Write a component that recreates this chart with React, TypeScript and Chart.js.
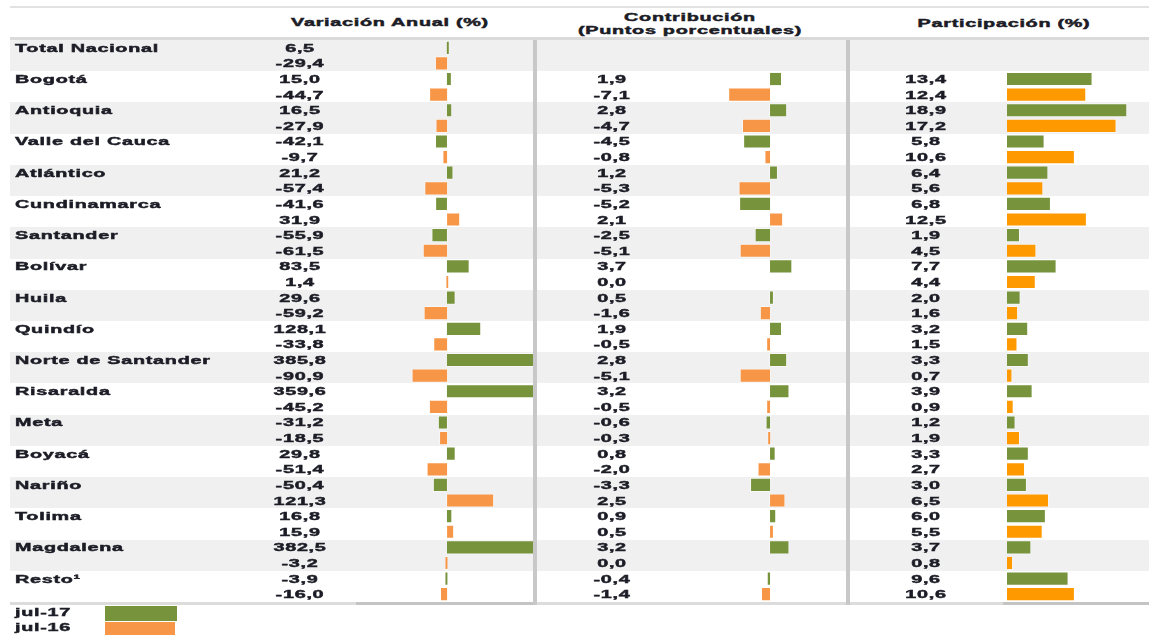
import React, { useEffect, useRef } from "react";
import { Chart, registerables } from "chart.js";

Chart.register(...registerables);

// ---------------- DATA ----------------
const regions = [
  "Total Nacional",
  "Bogotá",
  "Antioquia",
  "Valle del Cauca",
  "Atlántico",
  "Cundinamarca",
  "Santander",
  "Bolívar",
  "Huila",
  "Quindío",
  "Norte de Santander",
  "Risaralda",
  "Meta",
  "Boyacá",
  "Nariño",
  "Tolima",
  "Magdalena",
  "Resto¹",
];

const seriesLabels = ["jul-17", "jul-16"];

const variacion17 = [6.5, 15.0, 16.5, -42.1, 21.2, -41.6, -55.9, 83.5, 29.6, 128.1, 385.8, 359.6, -31.2, 29.8, -50.4, 16.8, 382.5, -3.9];
const variacion16 = [-29.4, -44.7, -27.9, -9.7, -57.4, 31.9, -61.5, 1.4, -59.2, -33.8, -90.9, -45.2, -18.5, -51.4, 121.3, 15.9, -3.2, -16.0];

const contribucion17 = [null, 1.9, 2.8, -4.5, 1.2, -5.2, -2.5, 3.7, 0.5, 1.9, 2.8, 3.2, -0.6, 0.8, -3.3, 0.9, 3.2, -0.4];
const contribucion16 = [null, -7.1, -4.7, -0.8, -5.3, 2.1, -5.1, 0.0, -1.6, -0.5, -5.1, -0.5, -0.3, -2.0, 2.5, 0.5, 0.0, -1.4];

const participacion17 = [null, 13.4, 18.9, 5.8, 6.4, 6.8, 1.9, 7.7, 2.0, 3.2, 3.3, 3.9, 1.2, 3.3, 3.0, 6.0, 3.7, 9.6];
const participacion16 = [null, 12.4, 17.2, 10.6, 5.6, 12.5, 4.5, 4.4, 1.6, 1.5, 0.7, 0.9, 1.9, 2.7, 6.5, 5.5, 0.8, 10.6];

const headers = {
  variacion: "Variación Anual (%)",
  contribucion1: "Contribución",
  contribucion2: "(Puntos porcentuales)",
  participacion: "Participación (%)",
};

// ---------------- STYLE ----------------
const GREEN = "#77933C";
const ORANGE = "#F79646";
const ORANGE_P = "#FF9900";
const STRIPE = "#F0F0F0";
const SEP = "#C8C8C8";
const TEXT = "#1c1c26";
const FONT = "'Liberation Sans', Arial, sans-serif";
const SX = 1.8;
const LS = 0.4;

const W = 1149;
const H = 635;
const TOP = 40;
const ROWS_H = 562;
const ROW_H = ROWS_H / regions.length;

function fmt(v: number | null): string {
  return v === null || v === undefined ? "" : v.toFixed(1).replace(".", ",");
}

type TxtProps = { x: number; y: number; align: "left" | "center"; text: string };
function Txt({ x, y, align, text }: TxtProps) {
  const w = 400;
  const left = align === "left" ? x : x - w / 2;
  return (
    <div
      style={{
        position: "absolute",
        left,
        top: y - 8,
        width: w,
        height: 16,
        lineHeight: "16px",
        fontSize: 11,
        fontWeight: 700,
        fontFamily: FONT,
        letterSpacing: LS,
        color: TEXT,
        WebkitTextStroke: `0.45px ${TEXT}`,
        textAlign: align,
        whiteSpace: "nowrap",
        transform: `scaleX(${SX})`,
        transformOrigin: align === "left" ? "left center" : "center center",
      }}
    >
      {text}
    </div>
  );
}

type PanelProps = {
  left: number;
  width: number;
  d17: (number | null)[];
  d16: (number | null)[];
  c17: string;
  c16: string;
  r17: [number, number];
  r16: [number, number];
};

function BarPanel({ left, width, d17, d16, c17, c16, r17, r16 }: PanelProps) {
  const ref = useRef<HTMLCanvasElement>(null);
  useEffect(() => {
    const common = {
      borderColor: "rgba(255,255,255,0.45)",
      borderWidth: 1,
      borderSkipped: false as const,
      inflateAmount: 1,
      categoryPercentage: 1,
      barPercentage: 0.78,
    };
    const chart = new Chart(ref.current!, {
      type: "bar",
      data: {
        labels: regions,
        datasets: [
          { label: seriesLabels[0], data: d17 as any, backgroundColor: c17, xAxisID: "xg", ...common },
          { label: seriesLabels[1], data: d16 as any, backgroundColor: c16, xAxisID: "xo", ...common },
        ],
      },
      options: {
        indexAxis: "y",
        responsive: false,
        maintainAspectRatio: false,
        animation: false,
        devicePixelRatio: 1,
        events: [],
        layout: { padding: 0 },
        plugins: { legend: { display: false }, tooltip: { enabled: false } },
        scales: {
          y: { type: "category", display: false, offset: true },
          xg: { type: "linear", axis: "x", display: false, min: r17[0], max: r17[1], stacked: false },
          xo: { type: "linear", axis: "x", display: false, min: r16[0], max: r16[1], stacked: false },
        },
      } as any,
    });
    return () => chart.destroy();
  }, []);
  return (
    <canvas
      ref={ref}
      width={width}
      height={ROWS_H}
      style={{ position: "absolute", left, top: TOP, width, height: ROWS_H }}
    />
  );
}

export default function App() {
  const rowTop = (i: number) => TOP + i * ROW_H;
  return (
    <div
      style={{
        position: "fixed",
        left: 0,
        top: 0,
        width: W,
        height: H,
        background: "#fff",
        overflow: "hidden",
      }}
    >
      {/* top line and header band */}
      <div style={{ position: "absolute", left: 10, top: 6, width: W - 10, height: 2, background: "#E2E2E2" }} />
      <div style={{ position: "absolute", left: 10, top: 37, width: W - 10, height: 3, background: "#DADADA" }} />

      {/* row stripes */}
      {regions.map((_, i) => (
        <div
          key={"s" + i}
          style={{
            position: "absolute",
            left: 10,
            top: rowTop(i),
            width: W - 10,
            height: ROW_H,
            background: i % 2 === 0 ? STRIPE : "#fff",
          }}
        />
      ))}

      {/* bottom line */}
      <div style={{ position: "absolute", left: 10, top: TOP + ROWS_H, width: W - 10, height: 3, background: "#DCDCDC" }} />
      <div style={{ position: "absolute", left: 356, top: TOP + ROWS_H, width: 178, height: 3, background: "#C4C4C4" }} />
      <div style={{ position: "absolute", left: 1003, top: TOP + ROWS_H, width: W - 1003, height: 3, background: "#C4C4C4" }} />

      {/* bar panels */}
      <BarPanel left={356} width={178} d17={variacion17} d16={variacion16} c17={GREEN} c16={ORANGE} r17={[-350, 335]} r16={[-240, 229]} />
      <BarPanel left={640} width={206} d17={contribucion17} d16={contribucion16} c17={GREEN} c16={ORANGE} r17={[-22.6, 13.2]} r16={[-22.6, 13.2]} />
      <BarPanel left={1007} width={142} d17={participacion17} d16={participacion16} c17={GREEN} c16={ORANGE_P} r17={[0, 22.5]} r16={[0, 22.5]} />

      {/* separators */}
      <div style={{ position: "absolute", left: 533, top: TOP, width: 4, height: ROWS_H + 3, background: SEP }} />
      <div style={{ position: "absolute", left: 846, top: TOP, width: 4, height: ROWS_H + 3, background: SEP }} />

      {/* headers */}
      <Txt x={390} y={22} align="center" text={headers.variacion} />
      <Txt x={690} y={17} align="center" text={headers.contribucion1} />
      <Txt x={690} y={30} align="center" text={headers.contribucion2} />
      <Txt x={1004} y={23} align="center" text={headers.participacion} />

      {/* row texts */}
      {regions.map((name, i) => {
        const y1 = rowTop(i) + ROW_H / 4;
        const y2 = rowTop(i) + (3 * ROW_H) / 4;
        return (
          <React.Fragment key={"t" + i}>
            <Txt x={15} y={y1} align="left" text={name} />
            <Txt x={300} y={y1} align="center" text={fmt(variacion17[i])} />
            <Txt x={300} y={y2} align="center" text={fmt(variacion16[i])} />
            <Txt x={612} y={y1} align="center" text={fmt(contribucion17[i])} />
            <Txt x={612} y={y2} align="center" text={fmt(contribucion16[i])} />
            <Txt x={926} y={y1} align="center" text={fmt(participacion17[i])} />
            <Txt x={926} y={y2} align="center" text={fmt(participacion16[i])} />
          </React.Fragment>
        );
      })}

      {/* legend */}
      <Txt x={15} y={612} align="left" text={seriesLabels[0]} />
      <Txt x={15} y={627} align="left" text={seriesLabels[1]} />
      <div style={{ position: "absolute", left: 105, top: 606, width: 72, height: 15, background: GREEN }} />
      <div style={{ position: "absolute", left: 105, top: 622, width: 70, height: 13, background: ORANGE }} />
    </div>
  );
}
